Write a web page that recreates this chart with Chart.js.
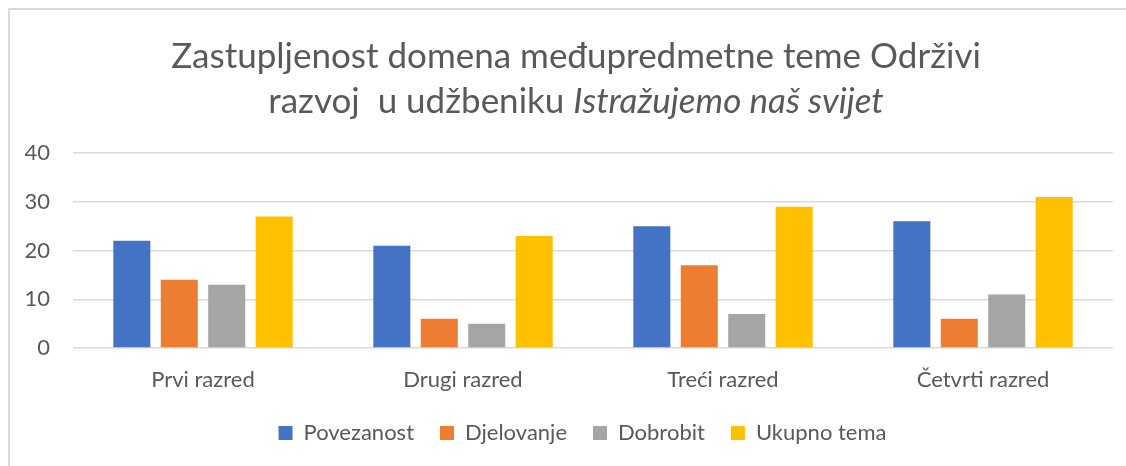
<!DOCTYPE html>
<html>
<head>
<meta charset="utf-8">
<script src="https://cdn.jsdelivr.net/npm/chart.js@4/dist/chart.umd.min.js"></script>
<style>
  html, body { margin: 0; padding: 0; background: #fff; }
  #frame { position: absolute; left: 8px; top: 8px; width: 1130px; height: 470px; border: 2px solid #d9d9d9; box-sizing: border-box; }
  #title { position: absolute; left: 0; top: 32px; width: 1152px; text-align: center; font-family: Lato, "Open Sans", sans-serif; font-size: 35px; line-height: 45px; color: #595959; }
  #wrap { position: absolute; left: 0; top: 0; width: 1126px; height: 466px; }
</style>
</head>
<body>
<div id="frame"></div>
<div id="wrap"><canvas id="zastupljenost"></canvas></div>
<div id="title">Zastupljenost domena međupredmetne teme Održivi<br>razvoj&nbsp; u udžbeniku <i>Istražujemo naš svijet</i></div>
<script>
let zastupljenost = document.getElementById("zastupljenost");

const razredi = ['Prvi razred', 'Drugi razred', 'Treći razred', 'Četvrti razred'];
const povezanost = [22, 21, 25, 26];
const djelovanje = [14, 6, 17, 6];
const dobrobit = [13, 5, 7, 11];
const ukupnoTema = [27, 23, 29, 31];
const yTicks = [0, 10, 20, 30, 40];

Chart.defaults.font.family = 'Lato, "Open Sans", sans-serif';
Chart.defaults.color = '#595959';

const dataZastupljenost = {
  labels: razredi,
  datasets: [
    { label: 'Povezanost', data: povezanost, backgroundColor: '#4472C4' },
    { label: 'Djelovanje', data: djelovanje, backgroundColor: '#ED7D31' },
    { label: 'Dobrobit', data: dobrobit, backgroundColor: '#A5A5A5' },
    { label: 'Ukupno tema', data: ukupnoTema, backgroundColor: '#FFC000' },
  ]
};

// legenda je u originalu malo desno od sredine
const pomakLegende = {
  id: 'pomakLegende',
  afterLayout(chart) {
    chart.legend.left += 26;
    chart.legend.right += 26;
  }
};

const configZastupljenost = {
  type: 'bar',
  data: dataZastupljenost,
  plugins: [pomakLegende],
  options: {
    responsive: true,
    maintainAspectRatio: false,
    animation: false,
    categoryPercentage: 0.73,
    barPercentage: 0.78,
    layout: { padding: { top: 153, left: 0, right: 13, bottom: 12 } },
    scales: {
      x: {
        grid: { display: false, drawTicks: false },
        border: { display: false },
        ticks: { font: { size: 22 }, padding: 19 },
        afterFit: (scale) => { scale.height = 48; }
      },
      y: {
        min: 0,
        max: 40,
        afterBuildTicks: (scale) => { scale.ticks = yTicks.map(v => ({ value: v })); },
        grid: { color: '#d9d9d9', lineWidth: 1.5, drawTicks: false },
        border: { display: false },
        ticks: { font: { size: 22 }, padding: 23 },
        afterFit: (scale) => { scale.width = 73; }
      }
    },
    plugins: {
      legend: {
        position: 'bottom',
        labels: { boxWidth: 14, boxHeight: 14, font: { size: 22 }, padding: 26 }
      },
      title: { display: false },
      tooltip: { enabled: false }
    }
  },
};

let zastupljenostGraph = new Chart(zastupljenost, configZastupljenost);
</script>
</body>
</html>
